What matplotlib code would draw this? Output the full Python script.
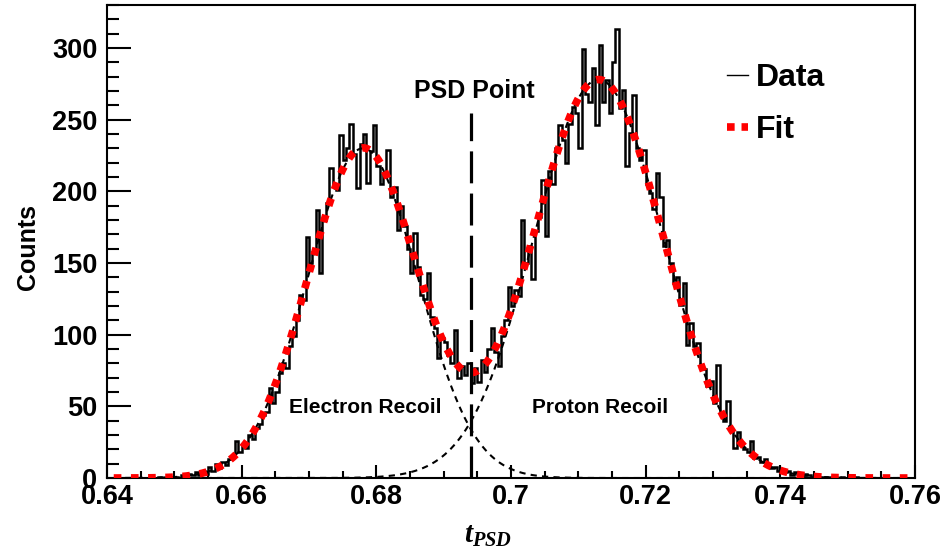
import numpy as np
import matplotlib
matplotlib.use('Agg')
import matplotlib.pyplot as plt
from matplotlib.lines import Line2D

plt.rcParams['font.family'] = ['Liberation Sans', 'DejaVu Sans']
plt.rcParams['font.weight'] = 'bold'
plt.rcParams['mathtext.fontset'] = 'custom'
plt.rcParams['mathtext.it'] = 'Liberation Serif:italic'
plt.rcParams['mathtext.rm'] = 'Liberation Serif'

# histogram binning: 240 bins of 0.0005 between 0.64 and 0.76
bin_edges = np.linspace(0.64, 0.76, 241)

# counts per bin (one row = 0.01 in t_PSD)
counts_0640 = [0, 0, 0, 0, 0, 0, 0, 0, 0, 0, 0, 0, 0, 0, 0, 1, 0, 0, 1, 0]
counts_0650 = [1, 0, 2, 1, 3, 2, 4, 2, 5, 3, 8, 5, 10, 7, 11, 9, 13, 16, 26, 18]
counts_0660 = [23, 21, 30, 27, 35, 38, 44, 46, 63, 52, 60, 73, 80, 77, 92, 99, 110, 128, 124, 168]
counts_0670 = [150, 158, 187, 143, 180, 192, 216, 205, 201, 239, 222, 230, 247, 226, 202, 233, 240, 206, 228, 246]
counts_0680 = [218, 205, 213, 229, 196, 203, 173, 190, 176, 160, 143, 171, 147, 128, 125, 143, 112, 105, 84, 98]
counts_0690 = [95, 86, 80, 103, 70, 78, 72, 80, 66, 77, 67, 82, 74, 90, 105, 88, 78, 99, 110, 133]
counts_0700 = [120, 131, 127, 180, 150, 162, 139, 172, 182, 208, 169, 214, 205, 230, 246, 236, 220, 247, 259, 255]
counts_0710 = [230, 299, 268, 262, 286, 246, 302, 262, 278, 255, 290, 313, 258, 271, 218, 241, 267, 230, 222, 229]
counts_0720 = [205, 199, 188, 213, 196, 162, 166, 150, 136, 140, 121, 136, 93, 108, 92, 94, 79, 76, 64, 68]
counts_0730 = [52, 79, 46, 40, 54, 33, 21, 32, 24, 20, 18, 26, 14, 15, 11, 13, 9, 7, 8, 5]
counts_0740 = [6, 4, 5, 2, 4, 3, 1, 3, 2, 1, 2, 0, 1, 1, 0, 1, 0, 0, 1, 0]
counts_0750 = [0, 0, 1, 0, 0, 0, 0, 0, 0, 0, 0, 0, 0, 0, 0, 0, 0, 0, 0, 0]

counts = np.array(counts_0640 + counts_0650 + counts_0660 + counts_0670 + counts_0680
                  + counts_0690 + counts_0700 + counts_0710 + counts_0720 + counts_0730
                  + counts_0740 + counts_0750)

# double gaussian fit parameters (electron recoil, proton recoil)
fit_amp = [230.0, 278.0]
fit_mean = [0.678, 0.713]
fit_sigma = [0.0082, 0.0096]
fit_range = (0.641, 0.759)

psd_point = 0.694

x_fit = np.linspace(fit_range[0], fit_range[1], 800)
electron = fit_amp[0] * np.exp(-(x_fit - fit_mean[0]) ** 2 / (2 * fit_sigma[0] ** 2))
proton = fit_amp[1] * np.exp(-(x_fit - fit_mean[1]) ** 2 / (2 * fit_sigma[1] ** 2))
total = electron + proton

fig = plt.figure(figsize=(9.48, 5.53), dpi=100)
ax = fig.add_axes([0.1129, 0.1356, 0.8523, 0.8553])

ax.stairs(counts, bin_edges, color='black', lw=1.8, zorder=2)

# individual components
ax.plot(x_fit, electron, color='black', lw=1.5, dashes=(3, 2.5), zorder=3)
ax.plot(x_fit, proton, color='black', lw=1.5, dashes=(3, 2.5), zorder=3)

# total fit
ax.plot(x_fit, total, color='red', lw=5.5, linestyle=(0, (1, 1.25)), zorder=4)

# PSD cut
ax.plot([psd_point, psd_point], [0, 255], color='black', lw=2.3, dashes=(10, 3.2), zorder=5)
ax.text(0.6945, 270, 'PSD Point', ha='center', va='center', fontsize=18, fontweight='bold')

ax.text(0.6784, 49, 'Electron Recoil', ha='center', va='center', fontsize=15, fontweight='bold')
ax.text(0.7132, 49, 'Proton Recoil', ha='center', va='center', fontsize=15, fontweight='bold')

ax.set_xlim(0.64, 0.76)
ax.set_ylim(0, 330)

ax.set_xticks(np.arange(0.64, 0.7601, 0.02))
ax.set_xticklabels(['0.64', '0.66', '0.68', '0.7', '0.72', '0.74', '0.76'])
ax.set_xticks(np.arange(0.64, 0.7601, 0.005), minor=True)
ax.set_yticks(np.arange(0, 301, 50))
ax.set_yticks(np.arange(0, 331, 10), minor=True)

ax.tick_params(axis='both', which='both', direction='in', width=1.5, labelsize=19.5)
ax.tick_params(axis='x', which='major', length=9.5, pad=4)
ax.tick_params(axis='x', which='minor', length=5)
ax.tick_params(axis='y', which='major', length=17, pad=7)
ax.tick_params(axis='y', which='minor', length=8.5)
for lab in ax.get_xticklabels() + ax.get_yticklabels():
    lab.set_fontweight('bold')
for sp in ax.spines.values():
    sp.set_linewidth(1.5)

ax.set_ylabel('Counts', fontsize=18, fontweight='bold')
ax.yaxis.set_label_coords(-0.083, 0.488)
ax.text(0.4715, -0.12, r'$t_{PSD}$', transform=ax.transAxes, ha='center', va='center', fontsize=21)

handles = [Line2D([], [], color='black', lw=1),
           Line2D([], [], color='red', lw=5.5, linestyle=(0, (1, 0.9)))]
leg = ax.legend(handles, ['Data', 'Fit'], loc='upper left', bbox_to_anchor=(0.752, 0.905),
                frameon=False, fontsize=23, handlelength=0.65, handletextpad=0.25,
                labelspacing=0.7, borderaxespad=0)
for t in leg.get_texts():
    t.set_fontweight('bold')

fig.savefig('out.png', dpi=100)
